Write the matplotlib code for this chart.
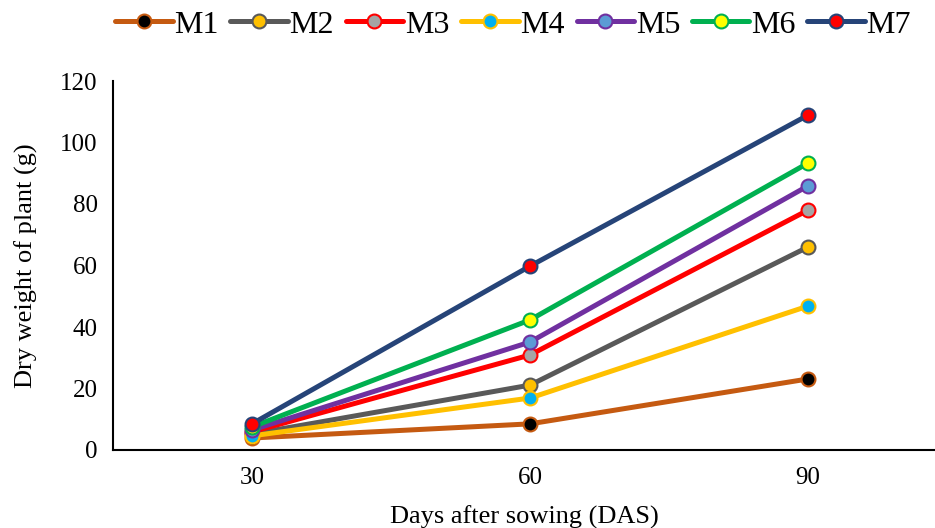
import matplotlib
matplotlib.use("Agg")
import matplotlib.pyplot as plt

plt.rcParams['font.family'] = ['Liberation Serif', 'DejaVu Serif']

days = ["30", "60", "90"]
series_names = ["M1", "M2", "M3", "M4", "M5", "M6", "M7"]
m1 = [3.9, 8.5, 23.1]
m2 = [5.2, 21.1, 66.0]
m3 = [5.9, 30.9, 78.0]
m4 = [4.6, 16.9, 46.8]
m5 = [6.5, 35.1, 85.9]
m6 = [7.5, 42.3, 93.3]
m7 = [8.5, 59.8, 108.9]
values = [m1, m2, m3, m4, m5, m6, m7]

line_colors = ["#C55A11", "#595959", "#FF0000", "#FFC000", "#7030A0", "#00B050", "#264478"]
face_colors = ["#000000", "#FFC000", "#A5A5A5", "#00B0F0", "#5B9BD5", "#FFFF00", "#FF0000"]

fig = plt.figure(figsize=(9.35, 5.28), dpi=100)
ax = fig.add_axes([113 / 935, 1 - 450 / 528, 1 - 113 / 935, 369 / 528])

x = range(len(days))
for name, vals, lc, fc in zip(series_names, values, line_colors, face_colors):
    ax.plot(x, vals, color=lc, lw=3.6, marker='o', ms=10,
            markerfacecolor=fc, markeredgecolor=lc, markeredgewidth=1.5,
            label=name, solid_capstyle='round')

ax.set_ylim(0, 120)
ax.set_yticks(range(0, 121, 20))
ax.set_xticks(list(x))
ax.set_xticklabels(days)
ax.set_xlim(-0.5, 2.5 - 12 / 278)

for s in ['top', 'right']:
    ax.spines[s].set_visible(False)
ax.spines['left'].set_linewidth(1.5)
ax.spines['bottom'].set_linewidth(1.5)
ax.tick_params(length=0, labelsize=18)
ax.tick_params(axis='y', pad=11)
ax.tick_params(axis='x', pad=12)

ax.set_xlabel("Days after sowing (DAS)", fontsize=19, labelpad=12)
ax.set_ylabel("Dry weight of plant (g)", fontsize=19, labelpad=16)

fig.legend(loc='center', bbox_to_anchor=(513 / 935, 1 - 25 / 528), ncol=7,
           frameon=False, fontsize=23, handlelength=1.8, handletextpad=0.05,
           columnspacing=0.37, borderaxespad=0)

fig.savefig("out.png", dpi=100)
